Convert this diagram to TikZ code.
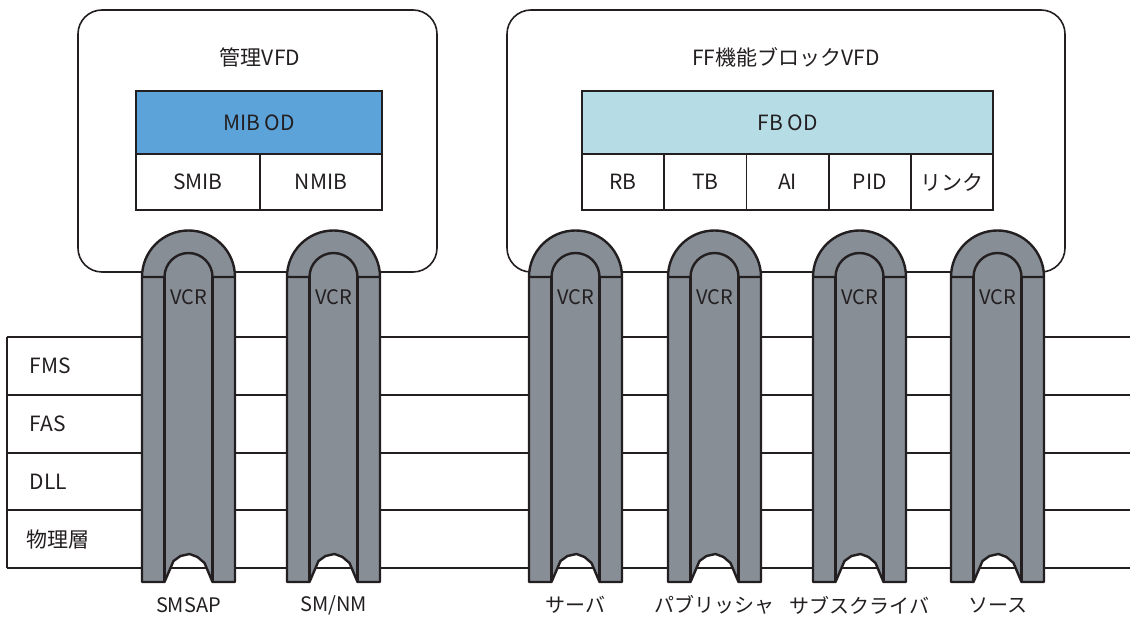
\documentclass[tikz,border=0pt]{standalone}
\usepackage{fontspec}
\setmainfont{Noto Sans CJK JP}
\usetikzlibrary{positioning}
\definecolor{pipegray}{RGB}{135,142,150}
\definecolor{mibblue}{RGB}{91,163,217}
\definecolor{fbblue}{RGB}{182,220,230}
\definecolor{ink}{RGB}{35,31,32}

\begin{document}
\begin{tikzpicture}[x=0.5pt, y=-0.5pt, color=ink, line width=1.2pt,
  vfd/.style={draw, line width=0.8pt, rounded corners=12pt, minimum height=131pt},
  od/.style={draw, line width=0.9pt, minimum height=31.5pt, inner sep=0pt, outer sep=0pt,
             font=\fontsize{10.5}{12}\selectfont},
  cell/.style={draw, line width=0.9pt, fill=white, minimum height=28pt, inner sep=0pt,
               outer sep=0pt, font=\fontsize{10.5}{12}\selectfont},
  lbl/.style={font=\fontsize{10.5}{12}\selectfont},
  saplbl/.style={font=\fontsize{10}{12}\selectfont},
  vcr/.style={font=\fontsize{10}{11}\selectfont, inner sep=0pt},
  pipe/.style={fill=pipegray, line join=round}]

  \useasboundingbox (0,0) rectangle (1130,625);

  % protocol layers
  \foreach \y in {337,395,453,510,568}
    \draw (7,\y) -- (1130,\y);
  \draw (7,337) -- (7,568);
  \node[lbl, anchor=west] (fms) at (22,366) {FMS};
  \node[lbl, anchor=west] (fas) at (22,424) {FAS};
  \node[lbl, anchor=west] (dll) at (22,482) {DLL};
  \node[lbl, anchor=west] (phy) at (19,540) {物理層};

  % management VFD
  \node[vfd, minimum width=179.5pt] (mgmt) at (257.5,141) {};
  \node[lbl] (mgmttitle) at (260,57) {管理VFD};
  \node[od, fill=mibblue, minimum width=123pt] (mibod) at (259,122.5) {MIB OD};
  \node[cell, minimum width=62pt, anchor=north west] (smib) at (mibod.south west) {SMIB};
  \node[cell, minimum width=61pt, right=0pt of smib] (nmib) {NMIB};

  % function block VFD
  \node[vfd, minimum width=279pt] (fbvfd) at (786,141) {};
  \node[lbl] (fbtitle) at (786,57) {FF機能ブロックVFD};
  \node[od, fill=fbblue, minimum width=205.5pt] (fbod) at (787.5,122.5) {FB OD};
  \node[cell, minimum width=41.1pt, anchor=north west] (rb) at (fbod.south west) {RB};
  \node[cell, minimum width=41.1pt, right=0pt of rb]  (tb)   {TB};
  \node[cell, minimum width=41.1pt, right=0pt of tb]  (ai)   {AI};
  \node[cell, minimum width=41.1pt, right=0pt of ai]  (pid)  {PID};
  \node[cell, minimum width=41.1pt, right=0pt of pid] (link) {リンク};

  % VCR pipes
  \foreach \c/\name/\txt in {188.5/smsap/SMSAP, 333.5/smnm/{SM/NM}, 575.5/server/サーバ,
                              714.5/pub/パブリッシャ, 859.5/sub/サブスクライバ, 997.5/src/ソース} {
    \draw[pipe] (\c-46.5,582) -- (\c-46.5,277)
      arc[start angle=180, end angle=0, radius=23.25pt] -- (\c+46.5,582)
      -- (\c+24,582) -- (\c+16,563) -- (\c+9,557) -- (\c+1,554) -- (\c-8,556)
      -- (\c-15,561) -- (\c-24,582) -- cycle;
    \draw (\c-46.5,277) -- (\c-24,277)
      arc[start angle=180, end angle=0, radius=12pt] -- (\c+46.5,277);
    \draw (\c-24,277) -- (\c-24,582) (\c+24,277) -- (\c+24,582);
    \node[vcr] (vcr\name) at (\c,297) {VCR};
    \node[saplbl] (sap\name) at (\c,605) {\txt};
  }
\end{tikzpicture}
\end{document}
